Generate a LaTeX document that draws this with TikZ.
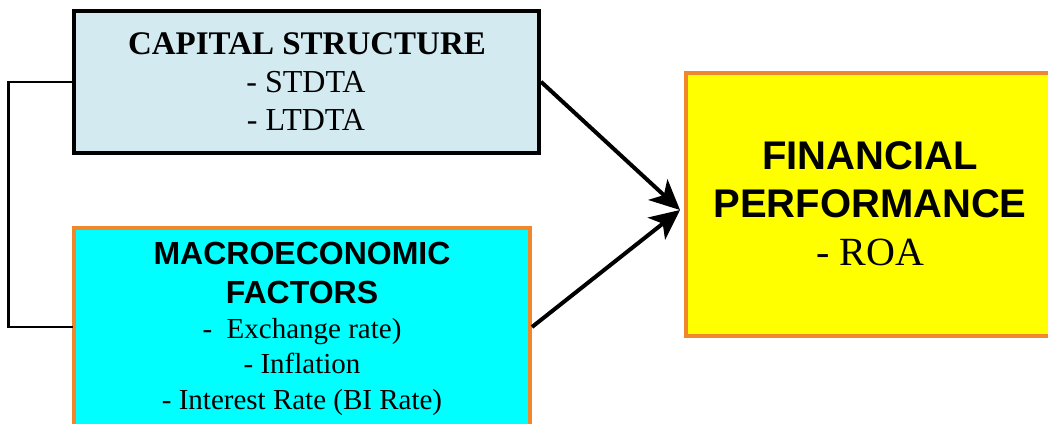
\documentclass[tikz,border=0pt]{standalone}
\usepackage{fontspec}
\setmainfont{Liberation Serif}
\newfontfamily\arialf{Liberation Sans}
\usetikzlibrary{arrows.meta}
\definecolor{capfill}{RGB}{210,234,240}
\definecolor{macfill}{RGB}{0,255,255}
\definecolor{finfill}{RGB}{255,255,0}
\definecolor{orangeline}{RGB}{240,135,45}
\tikzset{
  box/.style={rectangle, inner sep=0pt, line width=4pt},
  capbox/.style={box, draw=black, fill=capfill},
  orbox/.style={box, draw=orangeline},
  txt/.style={anchor=base, inner sep=0pt, text=black},
  link/.style={line width=2.5pt, line cap=rect},
  arrowline/.style={line width=4pt, -{Stealth[length=30pt,width=28pt,inset=8pt]}}
}
\begin{document}
\begin{tikzpicture}[x=1pt,y=-1pt]
\useasboundingbox (0,0) rectangle (1048,423);
\fill[white] (0,0) rectangle (1048,423);

% boxes
\node[capbox, minimum width=465.5pt, minimum height=141.5pt] (cap) at (306.25,81.75) {};
\node[orbox, fill=macfill, minimum width=456.5pt, minimum height=198pt] (mac) at (301.75,327) {};
\node[orbox, fill=finfill, minimum width=366pt, minimum height=263.5pt] (fin) at (869,204.5) {};

% capital structure text
\node[txt, font=\fontsize{33}{33}\selectfont\bfseries] (c1) at (307,54) {CAPITAL STRUCTURE};
\node[txt, font=\fontsize{32}{32}\selectfont] (c2) at (306,92) {- STDTA};
\node[txt, font=\fontsize{32}{32}\selectfont] (c3) at (306,130) {- LTDTA};

% macroeconomic text
\node[txt, font=\fontsize{32}{32}\selectfont\arialf\bfseries] (m1) at (302,264) {MACROECONOMIC};
\node[txt, font=\fontsize{32}{32}\selectfont\arialf\bfseries] (m2) at (302,303) {FACTORS};
\node[txt, font=\fontsize{29}{29}\selectfont] (m3) at (302,338) {-\ \ Exchange rate)};
\node[txt, font=\fontsize{29}{29}\selectfont] (m4) at (302,373) {- Inflation};
\node[txt, font=\fontsize{29}{29}\selectfont] (m5) at (302,409) {- Interest Rate (BI Rate)};

% financial performance text
\node[txt, font=\fontsize{40}{40}\selectfont\arialf\bfseries] (f1) at (870,169) {FINANCIAL};
\node[txt, font=\fontsize{40}{40}\selectfont\arialf\bfseries] (f2) at (870,217) {PERFORMANCE};
\node[txt, font=\fontsize{40}{40}\selectfont] (f3) at (870,265) {- ROA};

% bracket link
\coordinate (bl) at (8.5,0);
\draw[link] (cap.west) -- (bl |- cap.west) -- (bl |- mac.west) -- (mac.west);

% arrows
\coordinate (tip) at (680,210);
\draw[arrowline] (cap.east) -- (tip);
\draw[arrowline] (mac.east) -- (tip);
\end{tikzpicture}
\end{document}
